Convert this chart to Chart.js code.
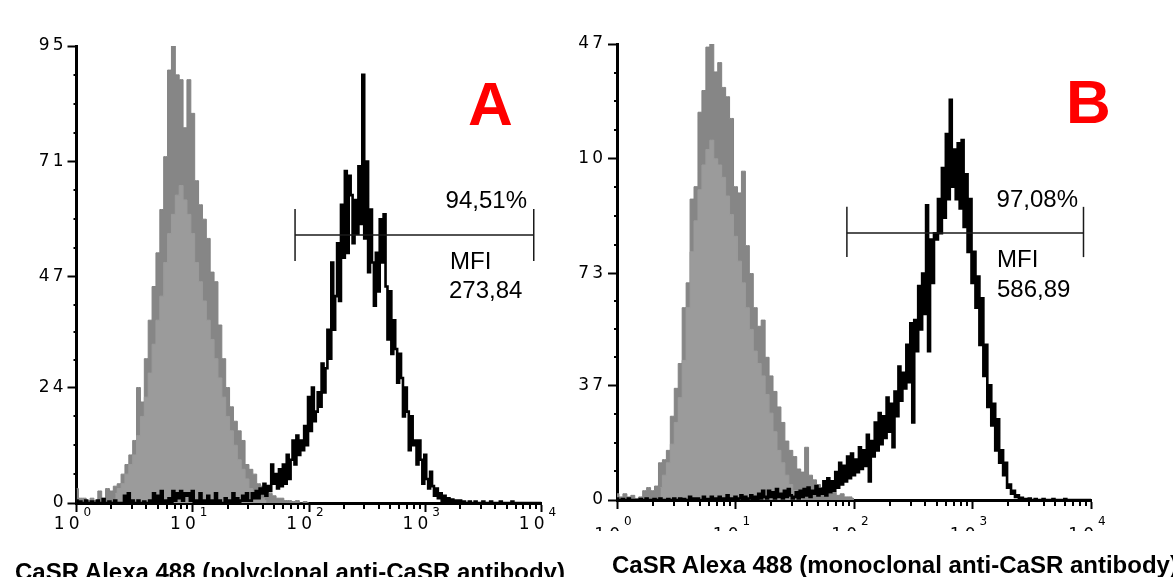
<!DOCTYPE html>
<html>
<head>
<meta charset="utf-8">
<script src="https://cdn.jsdelivr.net/npm/chart.js@4.4.1/dist/chart.umd.min.js"></script>
<style>
  html, body { margin: 0; padding: 0; background: #fff; width: 1173px; height: 577px; overflow: hidden; }
  body { position: relative; }
  canvas { position: absolute; top: 0; }
  #chartA { left: 0; }
  #chartB { left: 575px; }
  .note { position: absolute; font-family: 'Liberation Sans', Arial, sans-serif; font-size: 24px; line-height: 24px; color: #000; white-space: nowrap; }
  .panel { position: absolute; font-family: 'Liberation Sans', Arial, sans-serif; font-weight: bold; font-size: 62px; line-height: 62px; color: #ff0000; }
  .xtitle { position: absolute; font-family: 'Liberation Sans', Arial, sans-serif; font-weight: bold; font-size: 24px; line-height: 24px; color: #000; white-space: nowrap; }
</style>
</head>
<body>
<canvas id="chartA" width="575" height="577"></canvas>
<canvas id="chartB" width="598" height="531"></canvas>

<div class="panel" style="left:468px; top:73px;">A</div>
<div class="note" style="right:646px; top:188px;">94,51%</div>
<div class="note" style="left:450px; top:249px;">MFI</div>
<div class="note" style="left:449px; top:278px;">273,84</div>
<div class="xtitle" style="left:15px; top:560px;">CaSR Alexa 488 (polyclonal anti-CaSR antibody)</div>

<div class="panel" style="left:1066px; top:71px;">B</div>
<div class="note" style="right:95px; top:187px;">97,08%</div>
<div class="note" style="left:997px; top:247px;">MFI</div>
<div class="note" style="left:997px; top:277px;">586,89</div>
<div class="xtitle" style="left:612px; top:553px;">CaSR Alexa 488 (monoclonal anti-CaSR antibody)</div>

<script>
// channel axis: 4 decades, 60 channels per decade (10^0 .. 10^4)
const channelsPerDecade = 60;
const greyStep = 2; // isotype histograms read at 30 bins per decade
const xTickExponents = [0, 1, 2, 3, 4];
const minorFactors = [2, 3, 4, 5, 6, 7, 8, 9];

// Panel A (polyclonal)
const yTicksA = [0, 24, 47, 71, 95];
const yLabelsA = ['0', '24', '47', '71', '95'];
const isotypeDarkA = [3, 1, 1, 0.5, 1, 0.5, 2.5, 1, 3, 2.5,
    3.5, 4, 6, 8, 10, 13, 24, 21, 30, 38,
    45, 52, 61, 72, 90, 95, 89, 88, 78, 88,
    81, 67, 62, 59, 55, 48, 46, 37, 30, 24,
    20, 17, 15, 13, 8, 7, 6, 4, 3.5, 2.5,
    2, 1.5, 1, 1, 0.5, 0.5, 0.3, 0.5, 0, 0.3, 0];
const isotypeLightStartA = 10;
const isotypeLightA = [2, 3, 4, 6, 8, 10, 14, 18, 22, 27,
    33, 38, 43, 50, 56, 60, 64, 66, 63, 60,
    56, 50, 46, 42, 38, 34, 30, 26, 22, 18,
    15, 12, 9, 7, 5, 3, 2, 1.5, 1, 0.5];
const stainedA = [
    0.5, 0, 0.3, 0, 0, 0.5, 0, 0, 0.3, 0,
    0, 0.5, 0, 0, 0.8, 0, 0, 0.3, 0, 0,
    0.5, 0, 0, 0, 0, 1.5, 0, 2, 0, 0.5,
    0, 0, 0.5, 0, 0, 0.3, 0, 0, 0.5, 0,
    2, 0, 1.5, 0, 2.5, 0, 0.5, 0, 1, 0,
    2.5, 0.5, 2, 1, 2.5, 0.5, 2, 1.5, 2, 0.5,
    2.5, 0, 0.5, 0, 2, 0, 0.5, 0, 1.5, 0,
    0.5, 0, 2, 0, 0.5, 0, 0, 1, 0, 0.5,
    0, 2, 0, 1, 0, 0.5, 1.5, 0.5, 2, 0.5,
    0.5, 2, 1, 2.5, 1, 3, 2, 4, 1.5, 3.5,
    2.5, 8, 4, 6, 3, 7, 3.5, 8, 4, 10,
    5, 9, 13, 8, 14, 10, 13, 11, 16, 12,
    22, 15, 24, 17, 19, 23, 20, 29, 23, 28,
    36, 30, 50, 36, 43, 54, 42, 62, 51, 69,
    52, 68, 64, 54, 63, 56, 70, 58, 89, 55,
    71, 48, 61, 50, 41, 52, 44, 59, 50, 60,
    45, 34, 44, 31, 38, 32, 25, 31, 26, 18,
    24, 19, 11, 18, 12, 13, 8, 13, 9, 4,
    10, 5, 3, 6.5, 3.5, 1.5, 3, 1, 2, 0.5,
    1.5, 0.5, 1, 0.3, 0.7, 0.2, 0.5, 0, 0.5, 0,
    0.3, 0, 0, 0.3, 0, 0, 0.3, 0, 0, 0,
    0.3, 0, 0, 0, 0.3, 0, 0, 0, 0, 0.3,
    0, 0, 0, 0, 0, 0.3, 0, 0, 0, 0,
    0, 0, 0, 0, 0, 0, 0, 0, 0, 0, 0];
const gateXA = [112.8, 236];
const gateYA = 55.7;
const gateCapA = [50.3, 61.1];

// Panel B (monoclonal)
const yTicksB = [0, 37, 73, 110, 147];
const yLabelsB = ['0', '37', '73', '10', '47'];
const isotypeDarkB = [2, 1, 2, 1, 1.5, 0.5, 1, 3, 4, 3,
    4.5, 12, 13, 16, 27, 36, 44, 62, 70, 97,
    101, 125, 132, 146, 147, 138, 141, 133, 130, 123,
    101, 99, 106, 82, 73, 62, 56, 58, 46, 40,
    35, 30, 25, 19, 16, 14, 10, 9, 17, 8,
    6.5, 5, 4, 3, 2, 2.5, 1.5, 2, 1, 1, 0.5];
const isotypeLightStartB = 11;
const isotypeLightB = [4, 8, 12, 18, 25, 33, 45, 62, 80, 90,
    100, 108, 113, 116, 110, 108, 104, 98, 92, 85,
    77, 70, 62, 55, 48, 44, 40, 34, 28, 22,
    16, 12, 8, 5, 3, 1.5, 1];
const stainedB = [
    0.5, 0, 0, 0.3, 0, 0, 0.5, 0, 0, 0,
    0, 0, 0.3, 0, 0, 0.5, 0, 0, 0, 0.3,
    0, 0, 0.5, 0, 0, 0, 0.3, 0, 0, 0.5,
    0, 0, 0.5, 0, 0.3, 0, 0, 1, 0, 0.5,
    0, 0.5, 0, 0, 1, 0, 0.3, 0, 1, 0,
    0.5, 0, 1, 0, 0.5, 0, 1.5, 0, 0.5, 0,
    1, 0, 0.5, 1.5, 0, 1, 0, 0.5, 1.5, 0,
    1, 0, 2, 0.5, 3, 1, 0.5, 3, 1, 2.5,
    0.5, 3.5, 1, 2, 0.5, 3, 1, 3.5, 1.5, 0.5,
    1, 2.5, 0.5, 3, 1, 3.5, 1.5, 4, 1, 3,
    2, 4.5, 1.5, 3.5, 2, 6, 1.5, 7, 2.5, 6,
    3, 9, 4, 12, 5, 11, 6, 14, 7, 15,
    8, 13, 9, 17, 10, 16, 11, 21, 6, 19,
    14, 25, 16, 28, 18, 27, 20, 33, 22, 31,
    17, 35, 27, 43, 32, 41, 36, 50, 38, 57,
    25, 58, 48, 69, 55, 73, 60, 95, 48, 84,
    70, 86, 84, 97, 86, 107, 91, 118, 97, 129,
    101, 113, 97, 115, 94, 116, 88, 105, 80, 97,
    70, 80, 62, 72, 50, 65, 40, 50, 30, 37,
    24, 31, 16, 26, 12, 16, 8, 12, 4, 5,
    2, 3, 1, 1.5, 0.3, 0.7, 0, 0.3, 0, 0.5,
    0, 0, 0.3, 0, 0, 0, 0.3, 0, 0, 0,
    0, 0.3, 0, 0, 0, 0, 0, 0.3, 0, 0,
    0, 0, 0, 0, 0, 0, 0, 0, 0, 0, 0];
const gateXB = [116.4, 236.2];
const gateYB = 86.1;
const gateCapB = [78.3, 94.5];

const toPoints = (vals, start, step) => vals.map((v, i) => ({ x: (start + i) * step, y: v }));

// minor ticks and 10^n labels, drawn on the library's own scales
const axisDecor = {
    id: 'axisDecor',
    beforeDraw(chart) {
        chart.ctx.letterSpacing = '3px';
    },
    afterDraw(chart, args, o) {
        const { ctx } = chart;
        const x = chart.scales.x;
        const y = chart.scales.y;
        ctx.save();
        ctx.strokeStyle = '#000';
        ctx.lineWidth = 2;
        ctx.beginPath();
        for (let d = 0; d < xTickExponents.length - 1; d++) {
            minorFactors.forEach(k => {
                const px = Math.round(x.getPixelForValue((xTickExponents[d] + Math.log10(k)) * channelsPerDecade));
                ctx.moveTo(px, x.top);
                ctx.lineTo(px, x.top + o.minorX);
            });
        }
        const yt = o.yTicks;
        for (let j = 0; j < yt.length - 1; j++) {
            for (let q = 1; q < 4; q++) {
                const py = Math.round(y.getPixelForValue(yt[j] + (yt[j + 1] - yt[j]) * q / 4));
                ctx.moveTo(y.right, py);
                ctx.lineTo(y.right - o.minorY, py);
            }
        }
        ctx.stroke();

        ctx.fillStyle = '#000';
        ctx.letterSpacing = '4px';
        xTickExponents.forEach(e => {
            const px = x.getPixelForValue(e * channelsPerDecade);
            ctx.font = '17px "DejaVu Sans"';
            ctx.textAlign = 'right';
            ctx.fillText('10', px + o.baseDx, x.top + o.baseDy);
            ctx.font = '12px "DejaVu Sans"';
            ctx.textAlign = 'left';
            ctx.fillText(String(e), px + o.expDx, x.top + o.expDy);
        });
        ctx.restore();
    }
};

function drawPanel(id, cfg) {
    const el = document.getElementById(id);
    const gateStyle = { borderColor: '#1a1a1a', borderWidth: 1.5, pointRadius: 0, fill: false, order: 0 };
    return new Chart(el, {
        type: 'line',
        data: {
            datasets: [
                Object.assign({ data: cfg.gateX.map(v => ({ x: v, y: cfg.gateY })) }, gateStyle),
                Object.assign({ data: cfg.gateCap.map(v => ({ x: cfg.gateX[0], y: v })) }, gateStyle),
                Object.assign({ data: cfg.gateCap.map(v => ({ x: cfg.gateX[1], y: v })) }, gateStyle),
                {
                    data: toPoints(cfg.stained, 0, 1),
                    stepped: 'middle', fill: false,
                    borderColor: '#000', borderWidth: 2.6, pointRadius: 0, order: 1
                },
                {
                    data: toPoints(cfg.lightVals, cfg.lightStart, greyStep),
                    stepped: 'middle', fill: 'origin',
                    backgroundColor: '#9b9b9b', borderColor: '#9b9b9b', borderWidth: 1, pointRadius: 0, order: 2
                },
                {
                    data: toPoints(cfg.darkVals, 0, greyStep),
                    stepped: 'middle', fill: 'origin',
                    backgroundColor: '#868686', borderColor: '#838383', borderWidth: 1, pointRadius: 0, order: 3
                }
            ]
        },
        options: {
            responsive: false,
            animation: false,
            events: [],
            layout: { padding: { top: cfg.padTop, right: cfg.padRight, left: 0, bottom: 0 } },
            plugins: {
                legend: { display: false },
                tooltip: { enabled: false },
                axisDecor: cfg.decor
            },
            scales: {
                x: {
                    type: 'linear',
                    min: 0,
                    max: channelsPerDecade * (xTickExponents.length - 1),
                    afterBuildTicks: s => { s.ticks = xTickExponents.map(e => ({ value: e * channelsPerDecade })); },
                    afterFit: s => { s.height = cfg.xHeight; },
                    ticks: { display: false },
                    grid: { drawOnChartArea: false, drawTicks: true, tickLength: 9, tickWidth: 2, color: '#000' },
                    border: { display: true, color: '#000', width: 3 }
                },
                y: {
                    min: 0,
                    max: cfg.yTicks[cfg.yTicks.length - 1],
                    afterBuildTicks: s => { s.ticks = cfg.yTicks.map(v => ({ value: v })); },
                    afterFit: s => { s.width = cfg.yWidth; },
                    ticks: {
                        callback: (v, i) => cfg.yLabels[i],
                        font: { family: 'DejaVu Sans', size: 17 },
                        color: '#000',
                        padding: cfg.yPad
                    },
                    grid: { drawOnChartArea: false, drawTicks: true, tickLength: 9, tickWidth: 2, color: '#000' },
                    border: { display: true, color: '#000', width: 3 }
                }
            }
        },
        plugins: [axisDecor]
    });
}

drawPanel('chartA', {
    yTicks: yTicksA, yLabels: yLabelsA,
    darkVals: isotypeDarkA, lightVals: isotypeLightA, lightStart: isotypeLightStartA,
    stained: stainedA,
    gateX: gateXA, gateY: gateYA, gateCap: gateCapA,
    padTop: 46, padRight: 33.5, xHeight: 74, yWidth: 76.5, yPad: 1,
    decor: { yTicks: yTicksA, minorX: 6, minorY: 3, baseDx: 7, baseDy: 26, expDx: 7, expDy: 13 }
});

drawPanel('chartB', {
    yTicks: yTicksB, yLabels: yLabelsB,
    darkVals: isotypeDarkB, lightVals: isotypeLightB, lightStart: isotypeLightStartB,
    stained: stainedB,
    gateX: gateXB, gateY: gateYB, gateCap: gateCapB,
    padTop: 44, padRight: 82, xHeight: 31, yWidth: 42, yPad: 2,
    decor: { yTicks: yTicksB, minorX: 6, minorY: 3, baseDx: 7, baseDy: 40, expDx: 7, expDy: 25 }
});
</script>
</body>
</html>
